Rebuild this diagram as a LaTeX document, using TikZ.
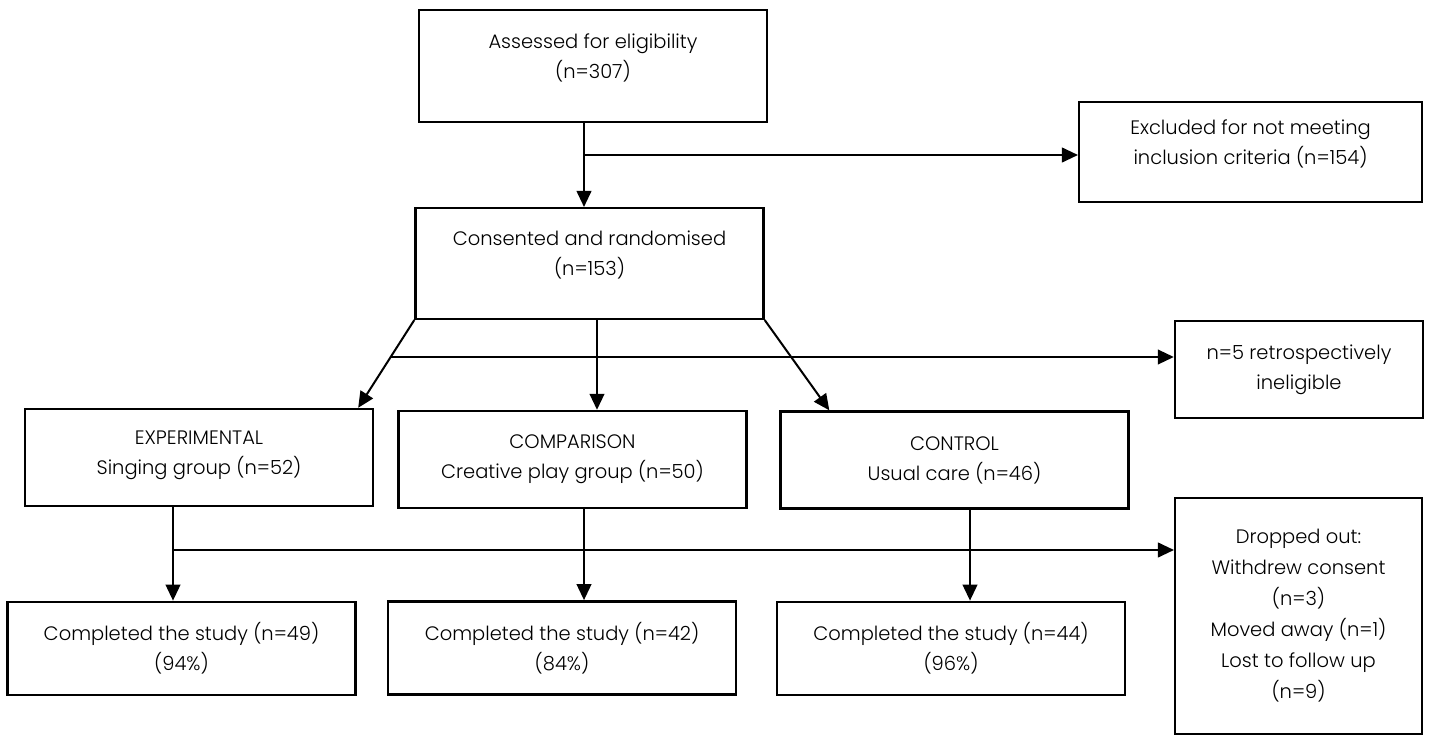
\documentclass[tikz,border=0pt]{standalone}
\usepackage{fontspec}
\setmainfont{Poppins}[UprightFont={* Light}]
\usetikzlibrary{arrows.meta,calc}
\begin{document}
\begin{tikzpicture}[x=0.75pt,y=-0.75pt]
    \tikzset{box/.style= {draw,
                          rectangle,
                          line width=1.8pt,
                          align=center,
                          inner sep=0pt,
                          font=\fontsize{14.6}{22.5}\selectfont,
                          minimum width=261pt,
                          minimum height=72.75pt},
             raised/.style={text depth=15pt},
             >={Triangle[length=12pt,width=11pt]},
             every path/.style={line width=1.5pt},
            }
    \useasboundingbox (0,0) rectangle (1432,735);
    \path
    (593,66)      node[box,raised,minimum height=84pt](assess) {Assessed for eligibility\\(n=307)}
    (1250.5,152)  node[box,raised,minimum width=257pt,minimum height=75pt](excl) {Excluded for not meeting\\inclusion criteria (n=154)}
    (589.5,263.5) node[box,raised,minimum height=83pt](consent) {Consented and randomised\\(n=153)}
    (1299,369.5)  node[box,minimum width=186pt](inel) {n=5 retrospectively\\ineligible}
    (199,457.5)   node[box,text depth=7pt](exp) {EXPERIMENTAL\\Singing group (n=52)}
    (572.5,459.5) node[box](cmp) {COMPARISON\\Creative play group (n=50)}
    (954.5,460)   node[box](ctl) {CONTROL\\Usual care (n=46)}
    (181.5,648.5) node[box,minimum height=70pt](done1) {Completed the study (n=49)\\(94\%)}
    (562,648)     node[box,minimum height=70pt](done2) {Completed the study (n=42)\\(84\%)}
    (951,648.5)   node[box,minimum height=70pt](done3) {Completed the study (n=44)\\(96\%)}
    (1298.5,616)  node[box,minimum width=185pt,minimum height=177pt,
                       font=\fontsize{14.6}{23.25}\selectfont](drop)
                  {Dropped out:\\Withdrew consent\\(n=3)\\Moved away (n=1)\\Lost to follow up\\(n=9)}
    ;
    \coordinate (ja) at (584,155);
    \coordinate (jb) at (391,357);
    \coordinate (jc) at (173,550);
    \coordinate (jd) at (597,357);
    \coordinate (je) at (970,550);
    \draw[->] (assess.south -| ja) -- (consent.north -| ja);
    \draw[->] (ja) -- (ja -| excl.west);
    \draw[->] (consent.south west) -- ($(exp.north east)+(-16,0)$);
    \draw[->] (consent.south -| jd) -- (cmp.north -| jd);
    \draw[->] (consent.south east) -- ($(ctl.north west)+(50,0)$);
    \draw[->] (jb) -- (jb -| inel.west);
    \draw[->] (exp.south -| jc) -- (done1.north -| jc);
    \draw[->] (jc) -- (jc -| drop.west);
    \draw[->] (cmp.south -| ja) -- (done2.north -| ja);
    \draw[->] (ctl.south -| je) -- (done3.north -| je);
\end{tikzpicture}
\end{document}
